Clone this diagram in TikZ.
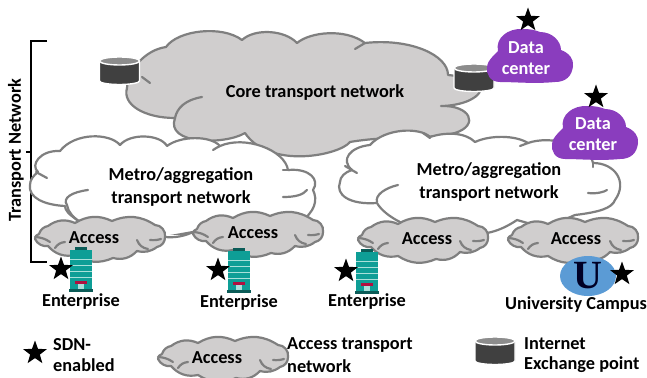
\documentclass[tikz,border=0pt]{standalone}
\usepackage{fontspec}
\setmainfont{Carlito}
\usetikzlibrary{shapes.geometric}
\definecolor{cloudfill}{HTML}{D0CECE}
\definecolor{cloudline}{HTML}{7F7F7F}
\definecolor{dcpurple}{HTML}{8A3DBE}
\definecolor{teal1}{HTML}{0E9E96}
\definecolor{teal2}{HTML}{0B5C58}
\definecolor{teal3}{HTML}{A9E0DA}
\definecolor{ured}{HTML}{B01040}
\definecolor{ublue}{HTML}{5B9BD5}
\definecolor{dbdark}{HTML}{404040}
\definecolor{dbtop}{HTML}{8C8C8C}
\tikzset{
  lbl/.style={font=\bfseries\fontsize{18.3}{20}\selectfont,text=black,inner sep=0pt},
  lblw/.style={font=\bfseries\fontsize{18.3}{20}\selectfont,text=white,inner sep=0pt},
  legl/.style={lbl,anchor=west},
  cl/.style={draw=cloudline,line width=2.2pt,line join=round,line cap=round},
  clgray/.style={cl,fill=cloudfill},
  clwhite/.style={cl,fill=white},
  inner/.style={cl},
  blk/.style={star,star points=5,star point ratio=2.45,fill=black,minimum size=25pt,inner sep=0pt},
  acc/.pic={
    \draw[clgray] (-60,-4) to[bend left=30] (-51,-12) to[bend left=30] (-24,-15) to[bend left=28] (13,-17)
      to[bend left=28] (56,-13) to[bend left=50] (66,-1) to[bend left=40] (58,9) to[bend left=25] (38,13)
      to[bend left=30] (14,20) to[bend left=28] (-24,17) to[bend left=30] (-51,8) to[bend left=35] (-64,1)
      to[bend left=40] (-60,-4) -- cycle;
    \draw[inner] (38,2) to[bend right=30] (49,11);
    \draw[inner] (-64,-1) to[bend left=15] (-49,4);
    \draw[inner] (-44,10) to[bend left=25] (-34,4);
    \draw[inner] (51,2) to[bend right=10] (62,1);
  },
  dbs/.pic={
    \draw[white,line width=1.4pt,fill=dbdark] (-20,-10) -- (-20,10) arc[start angle=180,end angle=360,x radius=20,y radius=-3.5] -- (20,-10) -- cycle;
    \draw[white,line width=1.4pt,fill=dbtop] (0,-10) ellipse[x radius=20,y radius=4];
  },
  dcc/.pic={
    \fill[dcpurple] (-30,26) .. controls (-40,26) and (-44,18) .. (-43,11)
      .. controls (-42,3) and (-36,0) .. (-32,-5)
      .. controls (-35,-18) and (-22,-28) .. (-7,-27)
      .. controls (0,-27) and (5,-26) .. (10,-24)
      .. controls (22,-24) and (31,-15) .. (31,-6)
      .. controls (39,-3) and (44,3) .. (43,10)
      .. controls (42,20) and (36,26) .. (25,26)
      .. controls (5,28) and (-15,26) .. (-30,26) -- cycle;
  },
  bld/.pic={
    \fill[teal2] (5,-3) rectangle (17,1);
    \fill[teal1] (0,0) rectangle (22,40);
    \foreach \yy in {8.5,14.5,20.5,26.5}{\fill[teal3] (0,\yy) rectangle (22,\yy+1.6);}
    \fill[teal3] (8,33) rectangle (14,39);
    \fill[ured] (5,31) rectangle (17,34);
    \fill[teal2] (-1,39) rectangle (23,42);
  }
}
\begin{document}
\begin{tikzpicture}[x=1pt,y=-1pt]
\useasboundingbox (0,0) rectangle (647,377);
\fill[white] (0,0) rectangle (647,377);
% bracket
\draw[black,line width=1.6pt] (47,41) -- (31,41) -- (31,262) -- (47,262);
\draw[black,line width=2.2pt] (26,152) -- (31,152);
\node[lbl,rotate=90] (tn) at (16,150) {Transport Network};
% core cloud
\draw[clgray] (166,47) .. controls (178,30) and (222,25) .. (242,40)
  .. controls (255,28) and (285,30) .. (297,43)
  .. controls (310,32) and (345,28) .. (365,43)
  .. controls (410,38) and (448,55) .. (448,75)
  .. controls (480,78) and (490,90) .. (470,100)
  .. controls (462,104) and (450,106) .. (441,106)
  .. controls (470,105) and (480,125) .. (455,133)
  .. controls (430,140) and (390,135) .. (350,142)
  .. controls (340,155) and (270,170) .. (245,133)
  .. controls (225,145) and (165,145) .. (175,118)
  .. controls (145,118) and (122,105) .. (127,88)
  .. controls (128,70) and (145,50) .. (166,47) -- cycle;
\draw[inner] (202,97) .. controls (185,100) and (177,108) .. (175,118);
\draw[inner] (142,77) -- (150,83);
\draw[inner] (365,43) -- (355,49);
% left metro cloud
\draw[clwhite] (60,151) .. controls (75,132) and (110,133) .. (120,145)
  .. controls (130,133) and (160,134) .. (167,146)
  .. controls (180,136) and (210,135) .. (220,146)
  .. controls (245,135) and (285,150) .. (288,170)
  .. controls (310,168) and (320,180) .. (313,190)
  .. controls (318,200) and (315,212) .. (300,222)
  -- (193,232) -- (165,237) -- (80,222)
  .. controls (68,214) and (65,210) .. (65,206)
  .. controls (45,205) and (28,198) .. (30,185)
  .. controls (30,180) and (33,176) .. (38,172)
  .. controls (30,165) and (40,150) .. (60,151) -- cycle;
\draw[inner] (88,190) .. controls (72,192) and (62,198) .. (67,205) .. controls (68,212) and (73,217) .. (80,222);
\draw[inner] (36,172) -- (47,178);
\draw[inner] (213,150) .. controls (216,148) and (218,147) .. (220,146);
\draw[inner] (283,197) .. controls (295,197) and (303,195) .. (307,190);
\draw[inner] (283,170) -- (288,170);
\fill[white] (166,235) rectangle (192,240);
\draw[cl] (165,237) .. controls (175,238) and (185,236) .. (193,232);
% right metro cloud
\draw[clwhite] (370,145) .. controls (385,128) and (420,127) .. (430,137)
  .. controls (445,132) and (465,132) .. (475,142)
  .. controls (490,135) and (515,135) .. (528,143)
  .. controls (550,135) and (590,145) .. (593,163)
  .. controls (615,163) and (628,182) .. (615,200)
  .. controls (612,208) and (600,212) .. (575,215)
  -- (545,228) -- (517,220)
  .. controls (508,226) and (498,231) .. (487,233)
  -- (420,236)
  -- (400,222)
  .. controls (390,217) and (381,210) .. (377,203)
  .. controls (350,205) and (335,195) .. (340,182)
  .. controls (340,177) and (345,172) .. (352,170)
  .. controls (340,160) and (350,147) .. (370,145) -- cycle;
\draw[inner] (398,185) .. controls (385,188) and (375,195) .. (377,202);
\draw[inner] (588,193) .. controls (597,194) and (604,192) .. (607,190);
\draw[inner] (423,133) -- (430,138);
\draw[inner] (520,146) -- (528,143);
\draw[inner] (345,166) -- (357,173);
\draw[inner] (593,163) -- (593,167);
% access clouds
\pic at (99,238) {acc};
\pic at (257,233) {acc};
\pic at (422,239) {acc};
\pic at (572,239) {acc};
\pic at (222,358) {acc};
\node[lbl] (a1) at (94,238) {Access};
\node[lbl] (a2) at (253,233) {Access};
\node[lbl] (a3) at (427,239) {Access};
\node[lbl] (a4) at (576,239) {Access};
\node[lbl] (a5) at (217,358) {Access};
% buildings
\pic at (70,250) {bld};
\pic at (228,251) {bld};
\pic at (356,252) {bld};
% cylinders
\pic at (119.5,71) {dbs};
\pic at (474,78) {dbs};
\pic at (495,351) {dbs};
% data centers
\pic at (530,56) {dcc};
\pic at (595,133) {dcc};
\node[lblw] (d1a) at (526,48) {Data};
\node[lblw] (d1b) at (526,69) {center};
\node[lblw] (d2a) at (593,124) {Data};
\node[lblw] (d2b) at (593,145) {center};
% university
\node[ellipse,fill=ublue,minimum width=56pt,minimum height=40pt,inner sep=0pt] (uni) at (588,276) {};
\node[inner sep=0pt,text=black!85!blue] (ul) at (588,276) {\fontspec{Liberation Serif}\bfseries\fontsize{40}{40}\selectfont U};
% stars
\node[blk] (s1) at (61,269) {};
\node[blk] (s2) at (218,270) {};
\node[blk] (s3) at (346,271) {};
\node[blk] (s4) at (622,274) {};
\node[blk] (s5) at (35,353) {};
\node[blk] (s6) at (528,20) {};
\node[blk] (s7) at (596,97) {};
% labels
\node[lbl] (core) at (315,93) {Core transport network};
\node[lbl] (m1a) at (181,176) {Metro/aggregation};
\node[lbl] (m1b) at (181,199) {transport network};
\node[lbl] (m2a) at (489,171) {Metro/aggregation};
\node[lbl] (m2b) at (489,194) {transport network};
\node[lbl] (e1) at (81,302) {Enterprise};
\node[lbl] (e2) at (239,303) {Enterprise};
\node[lbl] (e3) at (367,302) {Enterprise};
\node[lbl] (uc) at (576,305) {University Campus};
\node[legl] (l1) at (53,345) {SDN-};
\node[legl] (l2) at (53,365) {enabled};
\node[legl] (l3) at (287,345) {Access transport};
\node[legl] (l4) at (287,366) {network};
\node[legl] (l5) at (524,344) {Internet};
\node[legl] (l6) at (524,365) {Exchange point};
\end{tikzpicture}
\end{document}
